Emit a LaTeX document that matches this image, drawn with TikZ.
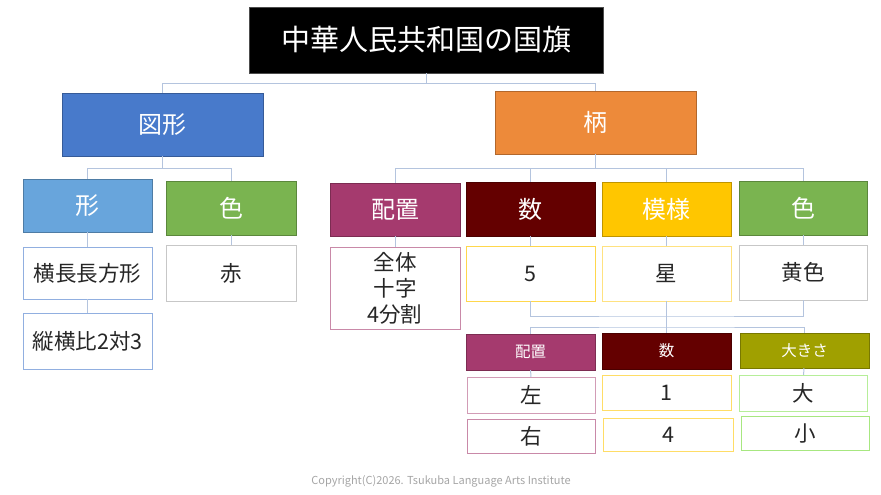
\documentclass[tikz,border=0pt]{standalone}
\usepackage{fontspec}
\setmainfont{Noto Sans CJK JP}
\usepackage{tikz}
\definecolor{linkc}{RGB}{180, 196, 222}
\definecolor{figc}{RGB}{72, 122, 203}
\definecolor{patc}{RGB}{237, 138, 58}
\definecolor{shapec}{RGB}{104, 165, 220}
\definecolor{greenc}{RGB}{122, 180, 80}
\definecolor{placec}{RGB}{165, 58, 110}
\definecolor{numc}{RGB}{100, 0, 0}
\definecolor{motifc}{RGB}{255, 198, 0}
\definecolor{sizec}{RGB}{160, 160, 0}
\definecolor{copyc}{RGB}{165, 165, 165}

\begin{document}
\begin{tikzpicture}[x = 1pt, y = -1pt,
	head/.style = {draw = #1!75!black, fill = #1, text = white, font = \fontsize{24}{26}\selectfont, inner sep = 0pt},
	subhead/.style = {draw = #1!75!black, fill = #1, text = white, font = \fontsize{15.5}{17}\selectfont, inner sep = 0pt},
	leaf/.style = {draw = #1, fill = white, text = black!85, font = \fontsize{21.5}{26}\selectfont, inner sep = 0pt, align = center},
	link/.style = {draw = linkc, line width = 1pt}]
			\useasboundingbox (0,0) rectangle (881,495);
			\node (title) at (426,40) [fill = black, draw = black!70, text = white, minimum width = 354pt, minimum height = 66pt, font = \fontsize{29}{32}\selectfont] {中華人民共和国の国旗};
			\node (figure) at (162.5,124.5) [head = figc, minimum width = 201pt, minimum height = 63pt] {図形};
			\node (pattern) at (595.5,122.5) [head = patc, minimum width = 201pt, minimum height = 63pt] {柄};
			\node (shape) at (87.5,205.5) [head = shapec, minimum width = 129pt, minimum height = 53pt] {形};
			\node (colora) at (231,208) [head = greenc, minimum width = 130pt, minimum height = 54pt] {色};
			\node (place) at (395,209.5) [head = placec, minimum width = 130pt, minimum height = 53pt] {配置};
			\node (num) at (530.5,209) [head = numc, minimum width = 129pt, minimum height = 54pt] {数};
			\node (motif) at (666.5,209) [head = motifc, minimum width = 129pt, minimum height = 54pt] {模様};
			\node (colorb) at (803,208) [head = greenc, minimum width = 128pt, minimum height = 54pt] {色};
			\node (rect) at (87.5,273) [leaf = figc!60, minimum width = 129pt, minimum height = 52pt] {横長長方形};
			\node (ratio) at (87.5,341) [leaf = figc!60, minimum width = 129pt, minimum height = 56pt] {縦横比2対3};
			\node (red) at (231,273) [leaf = black!22, minimum width = 130pt, minimum height = 56pt] {赤};
			\node (layout) at (395,288) [leaf = placec!60, minimum width = 130pt, minimum height = 82pt] {全体\\十字\\4分割};
			\node (five) at (530.5,273.5) [leaf = motifc!70, minimum width = 129pt, minimum height = 55pt] {5};
			\node (star) at (666.5,273.5) [leaf = motifc!50, minimum width = 129pt, minimum height = 55pt] {星};
			\node (yellow) at (803,272.5) [leaf = black!22, minimum width = 128pt, minimum height = 55pt] {黄色};
			\node (splace) at (530.5,352) [subhead = placec, minimum width = 129pt, minimum height = 36pt] {配置};
			\node (snum) at (666.5,351) [subhead = numc, minimum width = 129pt, minimum height = 36pt] {数};
			\node (ssize) at (804.5,350.5) [subhead = sizec, minimum width = 129pt, minimum height = 35pt] {大きさ};
			\node (left) at (531,395) [leaf = placec!50, minimum width = 128pt, minimum height = 36pt] {左};
			\node (right) at (531,436) [leaf = placec!60, minimum width = 128pt, minimum height = 34pt] {右};
			\node (one) at (666.5,392.5) [leaf = motifc!60, minimum width = 129pt, minimum height = 35pt] {1};
			\node (four) at (668,434.5) [leaf = motifc!60, minimum width = 130pt, minimum height = 33pt] {4};
			\node (big) at (803,393) [leaf = sizec!45!green!40, minimum width = 128pt, minimum height = 36pt] {大};
			\node (small) at (805,433) [leaf = sizec!50!green!50, minimum width = 128pt, minimum height = 34pt] {小};
			\node (copy) at (441,481) [text = copyc, font = \fontsize{11}{12}\selectfont] {Copyright(C)2026. Tsukuba Language Arts Institute};
			\coordinate (join) at (666,316);
			\coordinate (split) at (666,327);
			\draw [link] (title.south) -- ++(0,10) -| (figure);
			\draw [link] (title.south) -- ++(0,10) -| (pattern);
			\draw [link] (figure.south) -- ++(0,12) -| (shape);
			\draw [link] (figure.south) -- ++(0,12) -| (colora);
			\draw [link] (pattern.south) -- ++(0,14) -| (place);
			\draw [link] (pattern.south) -- ++(0,14) -| (num);
			\draw [link] (pattern.south) -- ++(0,14) -| (motif);
			\draw [link] (pattern.south) -- ++(0,14) -| (colorb);
			\draw [link] (shape) -- (rect);
			\draw [link] (rect) -- (ratio);
			\draw [link] (colora) -- (red);
			\draw [link] (place) -- (layout);
			\draw [link] (num) -- (five);
			\draw [link] (motif) -- (star);
			\draw [link] (colorb) -- (yellow);
			\draw [link] (five) |- (join) -| (yellow);
			\draw [link] (star) |- (join);
			\draw [link] (join) -- (split);
			\draw [link] (splace) |- (split) -| (ssize);
			\draw [link] (snum) |- (split);
			\draw [link] (splace) -- (left);
			\draw [link] (ssize) -- (big);
\end{tikzpicture}
\end{document}
